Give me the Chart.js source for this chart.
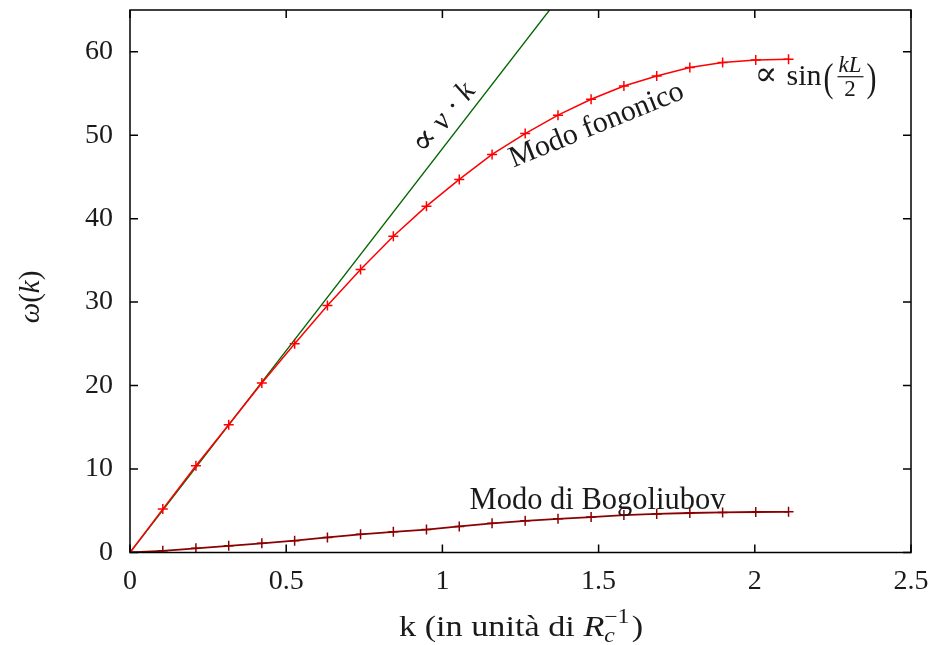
<!DOCTYPE html>
<html lang="it">
<head>
<meta charset="UTF-8">
<title>Relazione di dispersione</title>
<script src="https://cdn.jsdelivr.net/npm/chart.js"></script>
<style>
  body { margin: 0; background: #fff; }
</style>
</head>
<body>
<canvas id="chart" width="940" height="645"></canvas>
<script>
// valori
const kValues = [0, 0.105, 0.211, 0.316, 0.422, 0.527, 0.632, 0.738, 0.843, 0.949, 1.054,
                 1.159, 1.265, 1.370, 1.476, 1.581, 1.686, 1.792, 1.897, 2.003, 2.108];
const fononico = [0, 5.2, 10.4, 15.3, 20.3, 25.0, 29.6, 33.9, 37.9, 41.5, 44.7,
                  47.7, 50.2, 52.4, 54.3, 55.9, 57.1, 58.1, 58.7, 59.0, 59.1];
const bogoliubov = [0, 0.2, 0.5, 0.8, 1.1, 1.42, 1.8, 2.18, 2.48, 2.75, 3.12,
                    3.5, 3.8, 4.04, 4.25, 4.48, 4.62, 4.73, 4.8, 4.85, 4.87];
const lineareK = [0, 1.343];
const lineareW = [0, 65];
const xTicks = [0, 0.5, 1, 1.5, 2, 2.5];
const yTicks = [0, 10, 20, 30, 40, 50, 60];

const serif = '"Liberation Serif", "DejaVu Serif", serif';
const toPoints = (xs, ys) => xs.map((x, i) => ({ x: x, y: ys[i] }));

// testo con parti in corsivo
function drawRuns(ctx, runs, x, y, align) {
    let total = 0;
    runs.forEach(r => { ctx.font = r.font; r.w = ctx.measureText(r.t).width; total += r.w; });
    let cx = align === 'center' ? x - total / 2 : x;
    runs.forEach(r => {
        ctx.font = r.font;
        ctx.fillText(r.t, cx, y);
        cx += r.w;
    });
}

const cornicePlugin = {
    id: 'cornice',
    afterDraw(chart) {
        const { ctx, chartArea: a, scales: { x, y } } = chart;
        ctx.save();
        ctx.strokeStyle = '#000';
        ctx.lineWidth = 1.5;
        ctx.strokeRect(a.left, a.top, a.right - a.left, a.bottom - a.top);
        ctx.beginPath();
        xTicks.forEach(v => {
            const px = x.getPixelForValue(v);
            ctx.moveTo(px, a.bottom); ctx.lineTo(px, a.bottom - 8);
            ctx.moveTo(px, a.top); ctx.lineTo(px, a.top + 8);
        });
        yTicks.forEach(v => {
            const py = y.getPixelForValue(v);
            ctx.moveTo(a.left, py); ctx.lineTo(a.left + 8, py);
            ctx.moveTo(a.right, py); ctx.lineTo(a.right - 8, py);
        });
        ctx.stroke();

        ctx.fillStyle = '#1a1a1a';
        ctx.textBaseline = 'alphabetic';
        const reg = s => s + 'px ' + serif;
        const ita = s => 'italic ' + s + 'px ' + serif;

        // Modo di Bogoliubov
        drawRuns(ctx, [{ t: 'Modo di Bogoliubov', font: reg(30.5) }],
                 x.getPixelForValue(1.087), y.getPixelForValue(5.25), 'left');

        // Modo fononico (ruotato)
        ctx.save();
        ctx.translate(x.getPixelForValue(1.503), y.getPixelForValue(50.3));
        ctx.rotate(-22 * Math.PI / 180);
        drawRuns(ctx, [{ t: 'Modo fononico', font: reg(30) }], 0, 0, 'center');
        ctx.restore();

        // ∝ v·k (ruotato)
        ctx.save();
        ctx.translate(x.getPixelForValue(1.027), y.getPixelForValue(51.4));
        ctx.rotate(-52 * Math.PI / 180);
        drawRuns(ctx, [
            { t: '\u221D', font: reg(34) },
            { t: ' ', font: reg(30) },
            { t: 'v', font: ita(30) },
            { t: ' \u00B7 ', font: reg(30) },
            { t: 'k', font: ita(30) }
        ], 0, 0, 'center');
        ctx.restore();

        // ∝ sin(kL/2)
        let sx = x.getPixelForValue(1.999);
        const sy = y.getPixelForValue(56.0);
        ctx.font = reg(34);
        ctx.fillText('\u221D', sx, sy);
        sx += ctx.measureText('\u221D').width + 9;
        ctx.font = reg(30);
        ctx.fillText('sin', sx, sy);
        sx += ctx.measureText('sin').width + 2;
        ctx.save();
        ctx.translate(sx, sy + 6);
        ctx.scale(1, 1.35);
        ctx.fillText('(', 0, 0);
        ctx.restore();
        sx += ctx.measureText('(').width + 5;
        ctx.font = ita(23);
        const wNum = ctx.measureText('kL').width;
        ctx.fillText('kL', sx, sy - 13);
        ctx.fillRect(sx - 1, sy - 9, wNum + 3, 1.2);
        ctx.font = reg(23);
        ctx.fillText('2', sx + (wNum - ctx.measureText('2').width) / 2, sy + 11);
        sx += wNum + 5;
        ctx.save();
        ctx.translate(sx, sy + 6);
        ctx.scale(1, 1.35);
        ctx.font = reg(30);
        ctx.fillText(')', 0, 0);
        ctx.restore();

        // titolo asse x (leggermente allargato come il font del riferimento)
        ctx.save();
        ctx.translate(399, 636);
        ctx.scale(1.18, 1);
        let tx = 0;
        ctx.font = reg(29);
        ctx.fillText('k (in unit\u00E0 di ', tx, 0);
        tx += ctx.measureText('k (in unit\u00E0 di ').width;
        ctx.font = ita(29);
        ctx.fillText('R', tx, 0);
        tx += ctx.measureText('R').width;
        ctx.font = ita(20);
        ctx.fillText('c', tx, 6);
        ctx.font = reg(20);
        ctx.fillText('\u22121', tx, -13);
        tx += ctx.measureText('\u22121').width + 2;
        ctx.font = reg(29);
        ctx.fillText(')', tx, 0);
        ctx.restore();

        // titolo asse y
        ctx.save();
        ctx.translate(39, 297);
        ctx.rotate(-Math.PI / 2);
        drawRuns(ctx, [
            { t: '\u03C9', font: ita(29) },
            { t: '(', font: reg(29) },
            { t: 'k', font: ita(29) },
            { t: ')', font: reg(29) }
        ], 0, 0, 'center');
        ctx.restore();
        ctx.restore();
    }
};

const ctx = document.getElementById('chart').getContext('2d');
new Chart(ctx, {
    type: 'scatter',
    data: {
        datasets: [
            {
                label: 'Modo fononico',
                data: toPoints(kValues, fononico),
                showLine: true,
                borderColor: '#ff0000',
                backgroundColor: '#ff0000',
                borderWidth: 1.5,
                pointStyle: 'cross',
                pointRadius: 5,
                pointBorderWidth: 1.5
            },
            {
                label: 'Modo di Bogoliubov',
                data: toPoints(kValues, bogoliubov),
                showLine: true,
                borderColor: '#8b0000',
                backgroundColor: '#8b0000',
                borderWidth: 1.8,
                pointStyle: 'cross',
                pointRadius: 5,
                pointBorderWidth: 1.5
            },
            {
                label: 'v k',
                data: toPoints(lineareK, lineareW),
                showLine: true,
                borderColor: '#006400',
                borderWidth: 1.3,
                pointRadius: 0
            }
        ]
    },
    options: {
        responsive: false,
        animation: false,
        devicePixelRatio: 1,
        layout: { padding: { top: 10, right: 29, left: 0, bottom: 0 } },
        plugins: { legend: { display: false }, tooltip: { enabled: false } },
        scales: {
            x: {
                type: 'linear',
                min: 0,
                max: 2.5,
                afterBuildTicks: s => { s.ticks = xTicks.map(v => ({ value: v })); },
                afterFit: s => { s.height = 92.5; s.paddingLeft = 0; s.paddingRight = 0; },
                ticks: {
                    color: '#1a1a1a', font: { family: serif, size: 28 }, padding: 12, maxRotation: 0,
                    callback: v => String(v)
                },
                grid: { display: false, drawTicks: false },
                border: { display: false }
            },
            y: {
                type: 'linear',
                min: 0,
                max: 65,
                afterBuildTicks: s => { s.ticks = yTicks.map(v => ({ value: v })); },
                afterFit: s => { s.width = 130; s.paddingTop = 0; s.paddingBottom = 0; },
                ticks: { color: '#1a1a1a', font: { family: serif, size: 28 }, padding: 17 },
                grid: { display: false, drawTicks: false },
                border: { display: false }
            }
        }
    },
    plugins: [cornicePlugin]
});
</script>
</body>
</html>
